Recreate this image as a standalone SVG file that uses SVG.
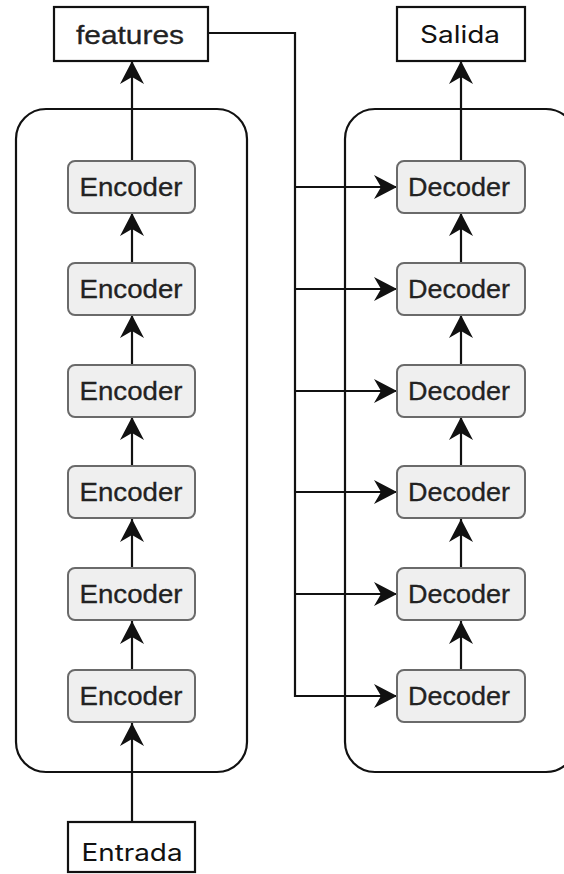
<svg xmlns="http://www.w3.org/2000/svg" width="564" height="874" viewBox="0 0 564 874">
<defs>
<style>
.io{fill:#fff;stroke:#111;stroke-width:2.2}
.cont{fill:none;stroke:#111;stroke-width:2.2}
.blk{fill:#efefef;stroke:#6a6a6a;stroke-width:2}
.t{font-family:"Liberation Sans",Arial,sans-serif;font-size:25.5px;fill:#222;text-anchor:middle;stroke:#222;stroke-width:0.3}
.t2{font-family:Inter,"Liberation Sans",sans-serif;font-size:24px;fill:#111;text-anchor:middle}
.ln{fill:none;stroke:#111;stroke-width:2.2;marker-end:url(#ah)}
</style>
<marker id="ah" markerUnits="userSpaceOnUse" viewBox="-24 -13 25 26" refX="0" refY="0" markerWidth="25" markerHeight="26" orient="auto">
<path d="M0,0 L-23,-12 L-16,0 L-23,12 Z" fill="#111"/>
</marker>
</defs>
<g id="containers">
<rect id="enc-stack" class="cont" x="16" y="109" width="231" height="663" rx="30"/>
<rect id="dec-stack" class="cont" x="345" y="109" width="231" height="663" rx="30"/>
</g>
<g id="connectors">
<line class="ln" x1="132" y1="822" x2="132" y2="723"/>
<line class="ln" x1="132" y1="670" x2="132" y2="621"/>
<line class="ln" x1="132" y1="568" x2="132" y2="519"/>
<line class="ln" x1="132" y1="466" x2="132" y2="417"/>
<line class="ln" x1="132" y1="365" x2="132" y2="315"/>
<line class="ln" x1="132" y1="263" x2="132" y2="213"/>
<line class="ln" x1="132" y1="161" x2="132" y2="61"/>
<line class="ln" x1="461" y1="670" x2="461" y2="621"/>
<line class="ln" x1="461" y1="568" x2="461" y2="519"/>
<line class="ln" x1="461" y1="466" x2="461" y2="417"/>
<line class="ln" x1="461" y1="365" x2="461" y2="315"/>
<line class="ln" x1="461" y1="263" x2="461" y2="213"/>
<line class="ln" x1="461" y1="161" x2="461" y2="61"/>
<path class="ln" d="M208,33 H295 V696 H397"/>
<line class="ln" x1="295" y1="187" x2="397" y2="187"/>
<line class="ln" x1="295" y1="289" x2="397" y2="289"/>
<line class="ln" x1="295" y1="391" x2="397" y2="391"/>
<line class="ln" x1="295" y1="492" x2="397" y2="492"/>
<line class="ln" x1="295" y1="594" x2="397" y2="594"/>
</g>
<g id="features"><rect class="io" x="54" y="7" width="154" height="54"/><text class="t" x="130" y="44" textLength="108" lengthAdjust="spacingAndGlyphs">features</text></g>
<g id="salida"><rect class="io" x="397" y="7" width="128" height="54"/><text class="t2" x="460" y="43" textLength="80" lengthAdjust="spacingAndGlyphs">Salida</text></g>
<g id="entrada"><rect class="io" x="68" y="822" width="127" height="50"/><text class="t2" x="132" y="861" textLength="101" lengthAdjust="spacingAndGlyphs">Entrada</text></g>
<g id="enc1"><rect class="blk" x="68" y="161" width="127" height="52" rx="7"/><text class="t" x="131" y="196" textLength="103" lengthAdjust="spacingAndGlyphs">Encoder</text></g>
<g id="enc2"><rect class="blk" x="68" y="263" width="127" height="52" rx="7"/><text class="t" x="131" y="298" textLength="103" lengthAdjust="spacingAndGlyphs">Encoder</text></g>
<g id="enc3"><rect class="blk" x="68" y="365" width="127" height="52" rx="7"/><text class="t" x="131" y="400" textLength="103" lengthAdjust="spacingAndGlyphs">Encoder</text></g>
<g id="enc4"><rect class="blk" x="68" y="466" width="127" height="52" rx="7"/><text class="t" x="131" y="501" textLength="103" lengthAdjust="spacingAndGlyphs">Encoder</text></g>
<g id="enc5"><rect class="blk" x="68" y="568" width="127" height="52" rx="7"/><text class="t" x="131" y="603" textLength="103" lengthAdjust="spacingAndGlyphs">Encoder</text></g>
<g id="enc6"><rect class="blk" x="68" y="670" width="127" height="52" rx="7"/><text class="t" x="131" y="705" textLength="103" lengthAdjust="spacingAndGlyphs">Encoder</text></g>
<g id="dec1"><rect class="blk" x="397" y="161" width="128" height="52" rx="7"/><text class="t" x="459" y="196" textLength="102" lengthAdjust="spacingAndGlyphs">Decoder</text></g>
<g id="dec2"><rect class="blk" x="397" y="263" width="128" height="52" rx="7"/><text class="t" x="459" y="298" textLength="102" lengthAdjust="spacingAndGlyphs">Decoder</text></g>
<g id="dec3"><rect class="blk" x="397" y="365" width="128" height="52" rx="7"/><text class="t" x="459" y="400" textLength="102" lengthAdjust="spacingAndGlyphs">Decoder</text></g>
<g id="dec4"><rect class="blk" x="397" y="466" width="128" height="52" rx="7"/><text class="t" x="459" y="501" textLength="102" lengthAdjust="spacingAndGlyphs">Decoder</text></g>
<g id="dec5"><rect class="blk" x="397" y="568" width="128" height="52" rx="7"/><text class="t" x="459" y="603" textLength="102" lengthAdjust="spacingAndGlyphs">Decoder</text></g>
<g id="dec6"><rect class="blk" x="397" y="670" width="128" height="52" rx="7"/><text class="t" x="459" y="705" textLength="102" lengthAdjust="spacingAndGlyphs">Decoder</text></g>
</svg>
